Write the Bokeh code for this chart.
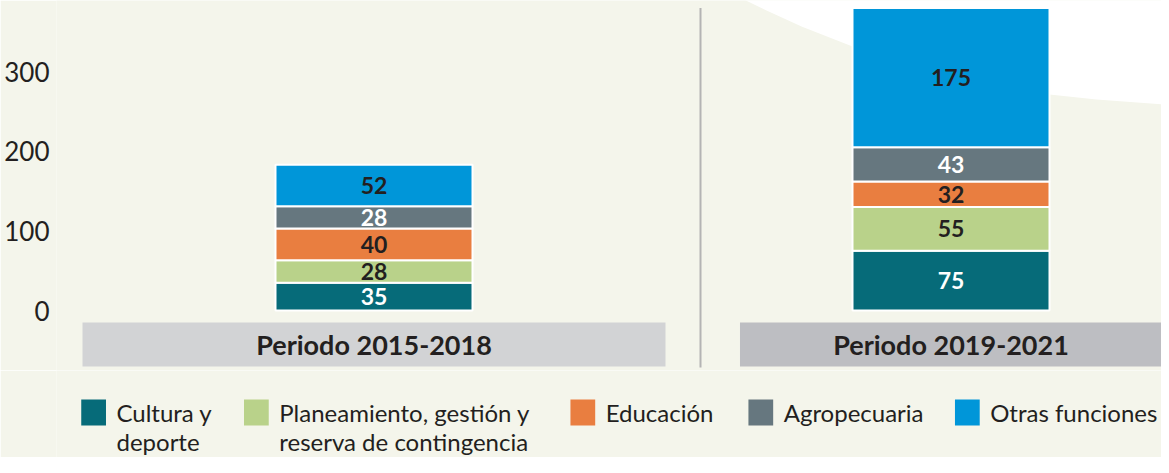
import numpy as np
from bokeh.plotting import figure
from bokeh.models import ColumnDataSource, Range1d, FixedTicker
from bokeh.layouts import column
from bokeh.core.properties import value
from bokeh.embed import file_html
from bokeh.resources import INLINE

# ---------------- data ----------------
periods = ["Periodo 2015-2018", "Periodo 2019-2021"]
series_labels = ["Cultura y\ndeporte",
                 "Planeamiento, gestión y\nreserva de contingencia",
                 "Educación", "Agropecuaria", "Otras funciones"]
cultura = [35, 75]
planeamiento = [28, 55]
educacion = [40, 32]
agropecuaria = [28, 43]
otras = [52, 175]
y_ticks = [0, 100, 200, 300]

# ---------------- styles ----------------
colors = ["#066b79", "#b9d28a", "#e97e40", "#66777f", "#0096d9"]
label_colors = ["#ffffff", "#231f20", "#231f20", "#ffffff", "#231f20"]
box_colors = ["#d2d3d5", "#bdbec2"]
box_widths = [1.0104, 0.7314]
BG = "#f4f5eb"
TXT = "#231f20"
FONT = "Lato"

W = 1161
H_CHART = 370
H_LEG = 87
DX = 4          # reference-to-canvas horizontal shift
DY = 6          # reference-to-canvas vertical shift
LEFT = 56
PX_X = 577.0
X0 = -317.5 / PX_X
PX_Y = 0.796
ZERO_PX = 310

x_start = X0
x_end = X0 + (W - LEFT) / PX_X
y_start = -(H_CHART - ZERO_PX) / PX_Y
y_end = ZERO_PX / PX_Y

keys = ["cultura", "planeamiento", "educacion", "agropecuaria", "otras"]
vals = [cultura, planeamiento, educacion, agropecuaria, otras]
xpos = list(range(len(periods)))
src = ColumnDataSource(dict(x=xpos, **{k: v for k, v in zip(keys, vals)}))

p = figure(width=W, height=H_CHART, x_range=Range1d(x_start, x_end),
           y_range=Range1d(y_start, y_end), toolbar_location=None,
           output_backend="svg", x_axis_location=None,
           min_border_left=LEFT, min_border_right=0, min_border_top=0,
           min_border_bottom=0, background_fill_color=BG,
           border_fill_color=BG, outline_line_color=None)
p.xgrid.visible = False
p.ygrid.visible = False


def sx(v):
    return (v - DX - LEFT) / PX_X + X0


def sy(v):
    return (ZERO_PX - (v - DY)) / PX_Y


# decorative white curve (top right)
curve = [(737, 0), (770, 16), (805, 32), (856, 52), (910, 68), (960, 81),
         (1010, 92), (1053, 100), (1100, 105), (1169, 110), (1185, 110),
         (1185, -20), (737, -20)]
p.patch([sx(a) for a, b in curve], [sy(b) for a, b in curve],
        fill_color="#ffffff", line_color=None)

# divider
totals = np.sum(np.array(vals), axis=0)
div_x = sx(704)
p.segment(x0=[div_x], y0=[sy(373)], x1=[div_x], y1=[float(totals.max())],
          line_color="#b4b4b4", line_width=2)

# category boxes
p.rect(x=xpos, y=[(sy(328) + sy(372)) / 2] * len(xpos), width=box_widths,
       height=sy(328) - sy(372), fill_color=box_colors, line_color=None)
p.text(x=xpos, y=[sy(350)] * len(xpos), text=periods,
       text_font=value(FONT), text_font_style="bold", text_font_size="27px",
       text_color=TXT, text_align="center", text_baseline="middle")

# stacked bars
p.vbar_stack(keys, x="x", width=197 / PX_X, color=colors, source=src,
             line_color="#ffffff", line_width=2)

arr = np.array(vals, dtype=float)
cum = np.cumsum(arr, axis=0)
mids = cum - arr / 2
for i in range(len(keys)):
    p.text(x=xpos, y=list(mids[i]), text=[str(v) for v in vals[i]],
           text_font=value(FONT), text_font_style="bold",
           text_font_size="23px", text_color=label_colors[i],
           text_align="center", text_baseline="middle")

# y axis
ax = p.yaxis[0]
ax.ticker = FixedTicker(ticks=y_ticks)
ax.axis_line_color = None
ax.major_tick_line_color = None
ax.minor_tick_line_color = None
ax.major_tick_out = 0
ax.major_tick_in = 0
ax.major_label_standoff = 7
ax.major_label_text_font = FONT
ax.major_label_text_font_size = "26px"
ax.major_label_text_color = TXT

# ---------------- legend ----------------
lg = figure(width=W, height=H_LEG, x_range=Range1d(0, W),
            y_range=Range1d(H_LEG, 0), toolbar_location=None,
            output_backend="svg", x_axis_location=None, y_axis_location=None,
            min_border=0, background_fill_color=BG, border_fill_color=BG,
            outline_line_color=None)
lg.xgrid.visible = False
lg.ygrid.visible = False

sq_left = [26, 197, 540, 727, 944]
SQ = 26
row1 = 42
row2 = 71
lg.rect(x=[v + SQ / 2 for v in sq_left], y=[row1] * len(sq_left), width=SQ,
        height=SQ, fill_color=colors, line_color=None)
line1 = [s.split("\n")[0] for s in series_labels]
line2 = [s.split("\n")[1] if "\n" in s else "" for s in series_labels]
tx = [v + SQ + 11 for v in sq_left]
lg.text(x=tx, y=[row1] * len(tx), text=line1, text_font=value(FONT),
        text_font_size="24px", text_color=TXT, text_align="left",
        text_baseline="middle")
lg.text(x=tx, y=[row2] * len(tx), text=line2, text_font=value(FONT),
        text_font_size="24px", text_color=TXT, text_align="left",
        text_baseline="middle")

layout = column(p, lg, spacing=0)
open("out.html", "w").write(file_html(layout, INLINE))
